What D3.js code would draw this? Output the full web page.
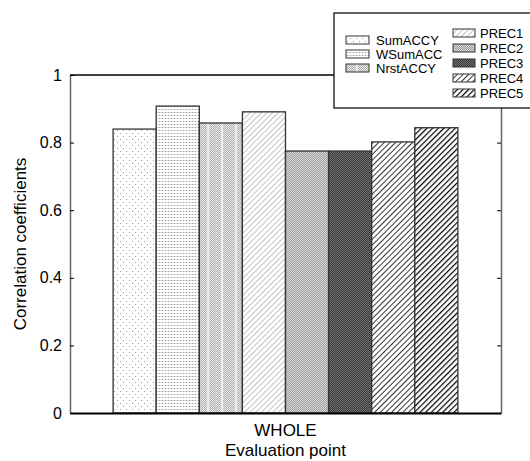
<!DOCTYPE html>
<html>
<head>
<meta charset="utf-8">
<script src="https://cdn.jsdelivr.net/npm/d3@7"></script>
<style>
  body { margin: 0; background: #fff; }
  svg text { font-family: Arial, "Liberation Sans", Helvetica, sans-serif; }
</style>
</head>
<body>
<div id="chart"></div>
<script>
"use strict";

var categories = ["WHOLE"];
var methods = ["SumACCY", "WSumACC", "NrstACCY", "PREC1", "PREC2", "PREC3", "PREC4", "PREC5"];
var values = [0.840, 0.908, 0.858, 0.891, 0.775, 0.775, 0.802, 0.844];
var yTicks = [0, 0.2, 0.4, 0.6, 0.8, 1];
var yTickLabels = ["0", "0.2", "0.4", "0.6", "0.8", "1"];

var width = 530, height = 461;
var plotLeft = 70, plotRight = 501, plotTop = 75, plotBottom = 413;

var svg = d3.select("#chart").append("svg")
	.attr("width", width)
	.attr("height", height);

var defs = svg.append("defs");

// fill patterns, one per method
function checker(id, dark, light) {
	var p = defs.append("pattern").attr("id", id)
		.attr("patternUnits", "userSpaceOnUse").attr("width", 2).attr("height", 2);
	p.append("rect").attr("width", 2).attr("height", 2).attr("fill", light);
	p.append("rect").attr("width", 1).attr("height", 1).attr("fill", dark);
	p.append("rect").attr("x", 1).attr("y", 1).attr("width", 1).attr("height", 1).attr("fill", dark);
}
function stripes(id, gap, color, sw) {
	var p = defs.append("pattern").attr("id", id)
		.attr("patternUnits", "userSpaceOnUse").attr("width", gap).attr("height", gap)
		.attr("patternTransform", "rotate(45)");
	p.append("rect").attr("width", gap).attr("height", gap).attr("fill", "#fff");
	p.append("line").attr("x1", 0).attr("y1", 0).attr("x2", 0).attr("y2", gap)
		.attr("stroke", color).attr("stroke-width", sw);
}

var p0 = defs.append("pattern").attr("id", "pat0")
	.attr("patternUnits", "userSpaceOnUse").attr("width", 6).attr("height", 6);
p0.append("rect").attr("width", 6).attr("height", 6).attr("fill", "#fff");
p0.append("rect").attr("x", 1).attr("y", 1).attr("width", 1).attr("height", 1).attr("fill", "#999");
p0.append("rect").attr("x", 4).attr("y", 4).attr("width", 1).attr("height", 1).attr("fill", "#999");

var p1 = defs.append("pattern").attr("id", "pat1")
	.attr("patternUnits", "userSpaceOnUse").attr("width", 3).attr("height", 3);
p1.append("rect").attr("width", 3).attr("height", 3).attr("fill", "#fff");
p1.append("rect").attr("y", 1).attr("width", 3).attr("height", 1).attr("fill", "#e2e2e2");
p1.append("rect").attr("x", 1).attr("y", 1).attr("width", 1).attr("height", 1).attr("fill", "#999");

var p2 = defs.append("pattern").attr("id", "pat2")
	.attr("patternUnits", "userSpaceOnUse").attr("width", 14).attr("height", 2);
p2.append("rect").attr("width", 14).attr("height", 2).attr("fill", "#eee");
[0, 2, 4, 6, 8, 12].forEach(function (x) {
	p2.append("rect").attr("x", x).attr("width", 1).attr("height", 1).attr("fill", "#aaa");
	p2.append("rect").attr("x", x + 1).attr("y", 1).attr("width", 1).attr("height", 1).attr("fill", "#aaa");
});

stripes("pat3", 4, "#888", 1);
checker("pat4", "#999", "#ddd");
checker("pat5", "#333", "#777");
stripes("pat6", 4, "#000", 1.6);
stripes("pat7", 4, "#000", 2.4);

var fills = methods.map(function (m, i) { return "url(#pat" + i + ")"; });

var x0 = d3.scaleBand().domain(categories).range([plotLeft, plotRight])
	.paddingInner(0).paddingOuter(0.125);
var x1 = d3.scaleBand().domain(methods).range([0, x0.bandwidth()]);
var y = d3.scaleLinear().domain([0, 1]).range([plotBottom, plotTop]);

// bars
var group = svg.selectAll(".group")
	.data(categories)
	.enter().append("g")
	.attr("class", "group")
	.attr("transform", function (d) { return "translate(" + x0(d) + ",0)"; });

group.selectAll("rect")
	.data(methods.map(function (m, i) { return { method: m, value: values[i], fill: fills[i] }; }))
	.enter().append("rect")
	.attr("x", function (d) { return x1(d.method); })
	.attr("y", function (d) { return y(d.value); })
	.attr("width", x1.bandwidth())
	.attr("height", function (d) { return plotBottom - y(d.value); })
	.attr("fill", function (d) { return d.fill; })
	.attr("stroke", "#333")
	.attr("stroke-width", 1.3);

// axes
var yAxisL = svg.append("g")
	.attr("transform", "translate(" + plotLeft + ",0)")
	.call(d3.axisLeft(y).tickValues(yTicks).tickSize(-4).tickSizeOuter(0).tickPadding(8)
		.tickFormat(function (d, i) { return yTickLabels[i]; }));
yAxisL.select(".domain").attr("stroke", "#666").attr("stroke-width", 1.5);
yAxisL.selectAll(".tick line").attr("stroke", "#000");
yAxisL.selectAll("text").attr("font-size", 16).attr("fill", "#000");

var yAxisR = svg.append("g")
	.attr("transform", "translate(" + plotRight + ",0)")
	.call(d3.axisRight(y).tickValues(yTicks).tickSize(-4).tickSizeOuter(0).tickFormat(""));
yAxisR.select(".domain").attr("stroke", "#666").attr("stroke-width", 1.5);
yAxisR.selectAll(".tick line").attr("stroke", "#000");

svg.append("line").attr("x1", plotLeft).attr("x2", plotRight).attr("y1", plotTop).attr("y2", plotTop)
	.attr("stroke", "#000").attr("stroke-width", 1.3);

var xAxis = svg.append("g")
	.attr("transform", "translate(0," + plotBottom + ")")
	.call(d3.axisBottom(x0).tickSize(0).tickSizeOuter(0).tickPadding(11));
xAxis.select(".domain").attr("stroke", "#000").attr("stroke-width", 2);
xAxis.selectAll("text").attr("font-size", 17).attr("fill", "#000");

svg.append("text")
	.attr("x", (plotLeft + plotRight) / 2)
	.attr("y", 456)
	.attr("text-anchor", "middle")
	.attr("font-size", 17)
	.text("Evaluation point");

svg.append("text")
	.attr("transform", "translate(26," + ((plotTop + plotBottom) / 2) + ") rotate(-90)")
	.attr("text-anchor", "middle")
	.attr("font-size", 17)
	.text("Correlation coefficients");

// legend
var legend = svg.append("g");
legend.append("rect")
	.attr("x", 334).attr("y", 13).attr("width", 200).attr("height", 95)
	.attr("fill", "#fff").attr("stroke", "#000").attr("stroke-width", 1.2);

var legendItems = legend.selectAll(".legend")
	.data(methods)
	.enter().append("g")
	.attr("class", "legend")
	.attr("transform", function (d, i) {
		var col = i < 3 ? 0 : 1;
		var row = i < 3 ? i : i - 3;
		var xPos = col === 0 ? 346 : 453;
		var yPos = col === 0 ? 40 + row * 14 : 33 + row * 15;
		return "translate(" + xPos + "," + yPos + ")";
	});

legendItems.append("rect")
	.attr("x", 0).attr("y", -4)
	.attr("width", function (d, i) { return i < 3 ? 23 : 22; })
	.attr("height", 8)
	.attr("fill", function (d, i) { return fills[i]; })
	.attr("stroke", "#333")
	.attr("stroke-width", 1);

legendItems.append("text")
	.attr("x", function (d, i) { return i < 3 ? 30 : 27; })
	.attr("y", 0)
	.attr("dy", "0.36em")
	.attr("font-size", 13)
	.text(function (d) { return d; });
</script>
</body>
</html>
